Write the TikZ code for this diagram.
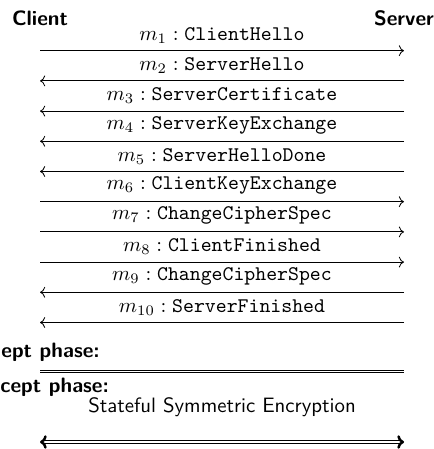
\documentclass[tikz,border=0pt]{standalone}
\usetikzlibrary{arrows.meta}
\begin{document}
\begin{tikzpicture}[x=0.4808pt,y=-0.4808pt,
  party/.style={font=\sffamily\bfseries},
  msg/.style={->},
  lbl/.style={midway,above},
  phase/.style={font=\sffamily\bfseries,anchor=west,inner sep=0pt},
  sepline/.style={double},
  channel/.style={double,double distance=0.7pt,{To[length=3.2pt,width=6.5pt,line width=1.2pt]}-{To[length=3.2pt,width=6.5pt,line width=1.2pt]}},
]
\useasboundingbox (0,0) rectangle (433,449);
\node[party] (client) at (40,18) {Client};
\node[party] (server) at (404,18) {Server};
\foreach \i in {1,...,10} {
  \coordinate (c\i) at (40,{50.7+30.2*(\i-1)});
  \coordinate (s\i) at (404,{50.7+30.2*(\i-1)});
}
\draw[msg] (c1) -- node[lbl] {$m_1: \texttt{ClientHello}$} (s1);
\draw[msg] (s2) -- node[lbl] {$m_2: \texttt{ServerHello}$} (c2);
\draw[msg] (s3) -- node[lbl] {$m_3: \texttt{ServerCertificate}$} (c3);
\draw[msg] (s4) -- node[lbl] {$m_4: \texttt{ServerKeyExchange}$} (c4);
\draw[msg] (s5) -- node[lbl] {$m_5: \texttt{ServerHelloDone}$} (c5);
\draw[msg] (c6) -- node[lbl] {$m_6: \texttt{ClientKeyExchange}$} (s6);
\draw[msg] (c7) -- node[lbl] {$m_7: \texttt{ChangeCipherSpec}$} (s7);
\draw[msg] (c8) -- node[lbl] {$m_8: \texttt{ClientFinished}$} (s8);
\draw[msg] (s9) -- node[lbl] {$m_9: \texttt{ChangeCipherSpec}$} (c9);
\draw[msg] (s10) -- node[lbl] {$m_{10}: \texttt{ServerFinished}$} (c10);

\node[phase] (pre) at (1,352) {ept phase:};
\coordinate (sepL) at (40,371.5);
\coordinate (sepR) at (404,371.5);
\draw[sepline] (sepL) -- (sepR);
\node[phase] (post) at (0,387) {cept phase:};

\node[font=\sffamily] (enc) at (222,407) {Stateful Symmetric Encryption};
\coordinate (chL) at (40,442);
\coordinate (chR) at (404,442);
\draw[channel] (chL) -- (chR);
\end{tikzpicture}
\end{document}
